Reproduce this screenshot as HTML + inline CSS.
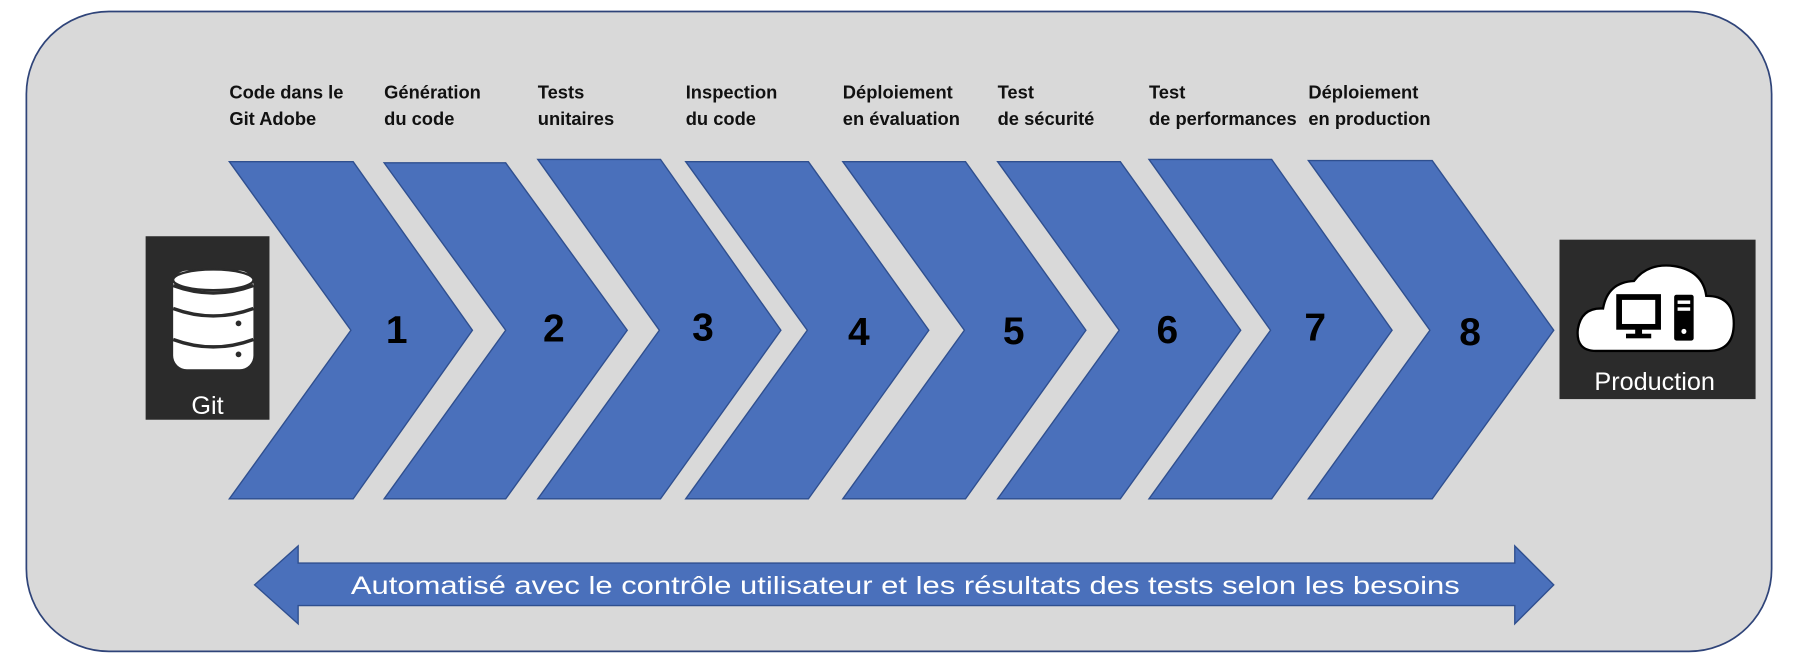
<!DOCTYPE html>
<html><head><meta charset="utf-8"><style>
html,body{margin:0;padding:0;background:#fff;}
svg{display:block}
text{font-family:"Liberation Sans",sans-serif}
</style></head><body>
<svg width="1798" height="664" viewBox="0 0 1568 579" preserveAspectRatio="none" xmlns="http://www.w3.org/2000/svg">
<rect x="23" y="10" width="1522" height="558" rx="72" ry="72" fill="#d9d9d9" stroke="#2f4479" stroke-width="1.5"/>
<g fill="#4a70bb" stroke="#2f4f8f" stroke-width="1.2">
<polygon points="200,141 308,141 412,288 308,435 200,435 306,288"/>
<polygon points="335,142 441,142 547,288 441,435 335,435 441,288"/>
<polygon points="469,139 576,139 681,288 576,435 469,435 575,288"/>
<polygon points="598,141 705,141 810,288 705,435 598,435 704,288"/>
<polygon points="735,141 842,141 947,288 842,435 735,435 841,288"/>
<polygon points="870,141 977,141 1082,288 977,435 870,435 976,288"/>
<polygon points="1002,139 1109,139 1214,288 1109,435 1002,435 1108,288"/>
<polygon points="1141,140 1249,140 1355,288 1249,435 1141,435 1247,288"/>
</g>
<g font-size="34" font-weight="bold" fill="#000" text-anchor="middle">
<text x="346" y="299">1</text><text x="483" y="298">2</text><text x="613" y="297">3</text><text x="749" y="301">4</text>
<text x="884" y="300">5</text><text x="1018" y="299">6</text><text x="1147" y="297">7</text><text x="1282" y="301">8</text>
</g>
<g font-size="16" font-weight="bold" fill="#111">
<text x="200" y="86">Code dans le</text><text x="200" y="109">Git Adobe</text>
<text x="335" y="86">Génération</text><text x="335" y="109">du code</text>
<text x="469" y="86">Tests</text><text x="469" y="109">unitaires</text>
<text x="598" y="86">Inspection</text><text x="598" y="109">du code</text>
<text x="735" y="86">Déploiement</text><text x="735" y="109">en évaluation</text>
<text x="870" y="86">Test</text><text x="870" y="109">de sécurité</text>
<text x="1002" y="86">Test</text><text x="1002" y="109">de performances</text>
<text x="1141" y="86">Déploiement</text><text x="1141" y="109">en production</text>
</g>
<!-- Git box -->
<rect x="127" y="206" width="108" height="160" fill="#2b2b2b"/>
<rect x="151" y="236" width="70" height="86" rx="12" fill="#fff"/>
<g fill="none" stroke="#2b2b2b" stroke-width="3">
<path d="M151,249 Q186,262 221,249"/>
<path d="M151,269 Q186,282 221,269"/>
<path d="M151,296 Q186,309 221,296"/>
</g>
<ellipse cx="186" cy="244" rx="35" ry="9" fill="#fff" stroke="#2b2b2b" stroke-width="2"/>
<g fill="#2b2b2b"><circle cx="208" cy="282" r="2.5"/><circle cx="208" cy="309" r="2.5"/><circle cx="208" cy="255" r="0"/></g>
<text x="181" y="361" font-size="22" fill="#fff" text-anchor="middle">Git</text>
<!-- Production box -->
<rect x="1360" y="209" width="171" height="139" fill="#2b2b2b"/>
<path d="M1392,306 Q1374,306 1376,287 Q1379,268 1398,269 Q1402,246 1425,245 Q1437,229 1460,232 Q1485,236 1488,258 Q1512,258 1512,282 Q1512,306 1490,306 Z" fill="#fff" stroke="#000" stroke-width="2"/>
<rect x="1412" y="259" width="34" height="26" fill="none" stroke="#000" stroke-width="5"/>
<rect x="1426" y="285" width="6" height="7" fill="#000"/>
<rect x="1418" y="291" width="22" height="4" fill="#000"/>
<rect x="1460" y="257" width="17" height="40" rx="2" fill="#000"/>
<rect x="1463" y="262" width="11" height="3" fill="#fff"/><rect x="1463" y="268" width="11" height="3" fill="#fff"/>
<circle cx="1468.5" cy="289" r="2.2" fill="#fff"/>
<text x="1443" y="340" font-size="22" fill="#fff" text-anchor="middle">Production</text>
<!-- bottom double arrow -->
<polygon points="222,510 260,476 260,491 1321,491 1321,476 1355,510 1321,544 1321,528 260,528 260,544" fill="#4a70bb" stroke="#2f4f8f" stroke-width="1.2"/>
<text x="306" y="518" font-size="22" fill="#fff" textLength="967" lengthAdjust="spacingAndGlyphs">Automatisé avec le contrôle utilisateur et les résultats des tests selon les besoins</text>
</svg>
</body></html>
